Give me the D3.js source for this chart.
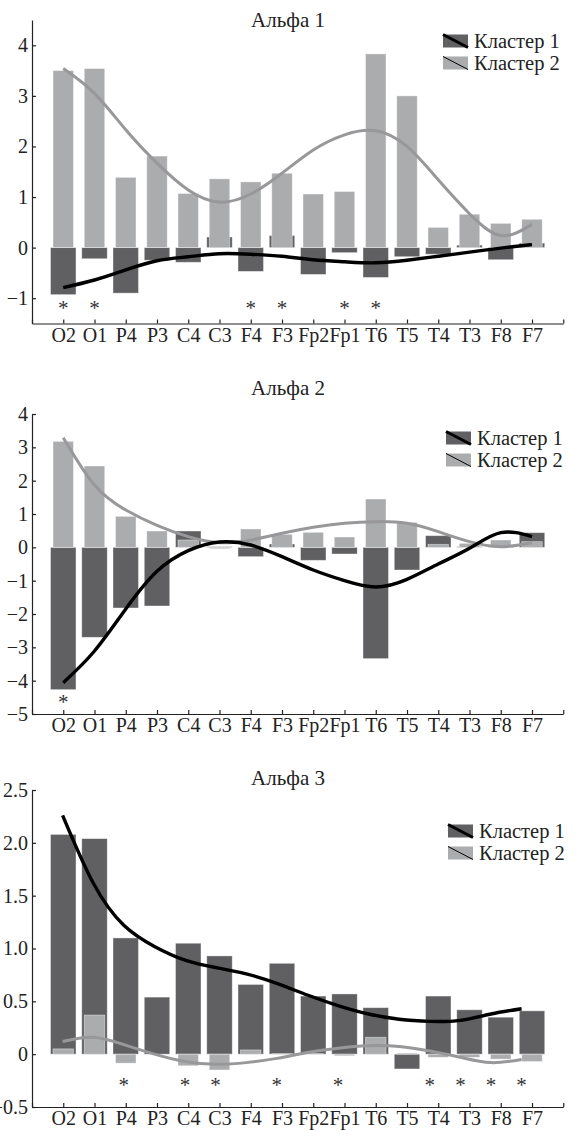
<!DOCTYPE html>
<html>
<head>
<meta charset="utf-8">
<script src="https://cdn.jsdelivr.net/npm/d3@7"></script>
<style>
body { margin: 0; background: #fff; }
svg { display: block; }
svg text { font-family: "Liberation Serif", "Times New Roman", serif !important; }
.axis path, .axis line { stroke: #222; stroke-width: 1.2; }
.axis text { fill: #222; font-size: 20px; }
.title { fill: #222; font-size: 21px; }
.legend text { fill: #222; font-size: 20.5px; }
.star { fill: #333; font-size: 21px; }
</style>
</head>
<body>
<div id="chart"></div>
<script>
'use strict';

var electrodes = ['O2', 'O1', 'P4', 'P3', 'C4', 'C3', 'F4', 'F3', 'Fp2', 'Fp1', 'T6', 'T5', 'T4', 'T3', 'F8', 'F7'];
var legendNames = ['Кластер 1', 'Кластер 2'];

// Альфа 1
var alpha1Cluster1 = [-0.93, -0.22, -0.90, -0.25, -0.29, 0.21, -0.47, 0.24, -0.53, -0.10, -0.59, -0.18, -0.13, 0.05, -0.24, 0.09];
var alpha1Cluster2 = [3.50, 3.54, 1.39, 1.81, 1.07, 1.36, 1.30, 1.47, 1.06, 1.11, 3.83, 3.00, 0.40, 0.66, 0.48, 0.56];
var alpha1Trend1 = [-0.79, -0.64, -0.44, -0.26, -0.18, -0.12, -0.13, -0.17, -0.24, -0.28, -0.30, -0.25, -0.17, -0.09, -0.01, 0.06];
var alpha1Trend2 = [3.54, 3.05, 2.33, 1.67, 1.14, 0.90, 1.06, 1.47, 1.93, 2.23, 2.31, 2.00, 1.34, 0.67, 0.24, 0.46];
var alpha1Marks = ['O2', 'O1', 'F4', 'F3', 'Fp1', 'T6'];
var alpha1Ticks = [-1, 0, 1, 2, 3, 4];

// Альфа 2
var alpha2Cluster1 = [-4.27, -2.70, -1.82, -1.76, 0.49, 0.02, -0.28, 0.10, -0.39, -0.20, -3.34, -0.68, 0.35, 0.02, -0.01, 0.44];
var alpha2Cluster2 = [3.18, 2.44, 0.93, 0.49, 0.22, -0.04, 0.55, 0.39, 0.45, 0.31, 1.45, 0.75, 0.09, 0.12, 0.22, 0.17];
var alpha2Trend1 = [-4.06, -3.11, -1.85, -0.72, -0.10, 0.16, 0.07, -0.28, -0.68, -1.00, -1.19, -0.96, -0.50, -0.03, 0.44, 0.32];
var alpha2Trend2 = [3.29, 1.87, 1.12, 0.66, 0.32, 0.14, 0.22, 0.42, 0.60, 0.72, 0.77, 0.72, 0.47, 0.17, 0.02, 0.14];
var alpha2Marks = ['O2'];
var alpha2Ticks = [-5, -4, -3, -2, -1, 0, 1, 2, 3, 4];

// Альфа 3
var alpha3Cluster1 = [2.08, 2.04, 1.10, 0.54, 1.05, 0.93, 0.66, 0.86, 0.55, 0.57, 0.44, -0.14, 0.55, 0.42, 0.35, 0.41];
var alpha3Cluster2 = [0.05, 0.37, -0.085, 0, -0.11, -0.15, 0.04, 0.005, 0.005, -0.015, 0.16, 0.01, -0.03, -0.03, -0.047, -0.07];
var alpha3Trend1 = [2.26, 1.62, 1.22, 1.02, 0.89, 0.82, 0.76, 0.67, 0.56, 0.46, 0.38, 0.33, 0.31, 0.32, 0.38, 0.43];
var alpha3Trend2 = [0.12, 0.16, 0.09, 0.0, -0.07, -0.095, -0.08, -0.04, 0.016, 0.057, 0.08, 0.073, 0.03, -0.03, -0.08, -0.05];
var alpha3Marks = ['P4', 'C4', 'C3', 'F3', 'Fp1', 'T4', 'T3', 'F8', 'F7'];
var alpha3Ticks = [-0.5, 0, 0.5, 1, 1.5, 2, 2.5];

var colors = {
    dark: '#606062',
    light: '#abacae',
    line1: '#000',
    line2: '#98989a'
};

var serif = '"Liberation Serif", "Times New Roman", serif';

var svg = d3.select('#chart').append('svg').attr('width', 578).attr('height', 1130);

var ChartScales = function ChartScales(config) {

    // categories sit on 1..16, axis runs 0..17
    var x = d3.scaleLinear().domain([0, 17]).range([32, 32 + 17 * 31.25]);
    // trend lines and stars of a panel may use a slightly narrower step
    var xo = d3.scaleLinear().domain([0, 17]).range([32, 32 + 17 * config.overlayStep]);
    var y = d3.scaleLinear().domain(config.domain).range([config.bottom, config.top]);

    return { x: x, xo: xo, y: y };
};

var ChartAxis = function ChartAxis(layer, config, scales) {

    var xAxis = d3.axisBottom(scales.x)
        .tickValues(d3.range(0, 18))
        .tickFormat(function (i) { return electrodes[i - 1] || ''; })
        .tickSizeInner(-4)
        .tickSizeOuter(0)
        .tickPadding(4);

    var yAxis = d3.axisLeft(scales.y)
        .tickValues(config.ticks)
        .tickFormat(config.format)
        .tickSizeInner(-4)
        .tickSizeOuter(0)
        .tickPadding(4);

    var gx = layer.append('g').attr('class', 'axis x-axis')
        .attr('transform', 'translate(0,' + config.bottom + ')')
        .call(xAxis)
        .attr('font-family', serif);
    gx.selectAll('text').attr('dy', '0.71em');

    layer.append('g').attr('class', 'axis y-axis')
        .attr('transform', 'translate(32,0)')
        .call(yAxis)
        .attr('font-family', serif);
};

var ChartBars = function ChartBars(layer, scales, values, width, color) {

    layer.append('g').selectAll('rect').data(values).enter().append('rect')
        .attr('x', function (d, i) { return scales.x(i + 1) - width / 2; })
        .attr('y', function (d) { return scales.y(Math.max(0, d)); })
        .attr('width', width)
        .attr('height', function (d) { return Math.abs(scales.y(d) - scales.y(0)); })
        .attr('fill', color)
        .attr('stroke', '#fff')
        .attr('stroke-opacity', 0.5)
        .attr('stroke-width', 0.8);
};

var ChartTrend = function ChartTrend(layer, scales, values, color, width) {

    var line = d3.line()
        .x(function (d, i) { return scales.xo(i + 1); })
        .y(function (d) { return scales.y(d); })
        .curve(d3.curveNatural);

    layer.append('path').datum(values)
        .attr('d', line)
        .attr('fill', 'none')
        .attr('stroke', color)
        .attr('stroke-width', width);
};

var ChartLegend = function ChartLegend(layer, config) {

    var g = layer.append('g').attr('class', 'legend').attr('font-family', serif);
    var fills = [colors.dark, colors.light];
    var strokes = [3, 1];

    legendNames.forEach(function (name, i) {
        var cy = config.legendY + i * 22;
        var x0 = config.legendX;
        g.append('rect').attr('x', x0).attr('y', cy - 6.5).attr('width', 25).attr('height', 13).attr('fill', fills[i]);
        g.append('line').attr('x1', x0).attr('y1', cy - 6.5).attr('x2', x0 + 25).attr('y2', cy + 6.5)
            .attr('stroke', '#000').attr('stroke-width', strokes[i]);
        g.append('text').attr('x', x0 + 31).attr('y', cy).attr('dy', '0.33em').text(name);
    });
};

var Panel = function Panel(config) {

    var layer = svg.append('g').attr('font-family', serif);
    var scales = ChartScales(config);

    layer.append('text').attr('class', 'title')
        .attr('x', 288).attr('y', config.titleY)
        .attr('text-anchor', 'middle')
        .text(config.title);

    ChartBars(layer, scales, config.cluster1, 25.5, colors.dark);
    ChartBars(layer, scales, config.cluster2, 20.5, colors.light);
    ChartTrend(layer, scales, config.trend2, colors.line2, 3);
    ChartTrend(layer, scales, config.trend1, colors.line1, 3.4);
    ChartAxis(layer, config, scales);

    // significance stars, the glyph sits high so the baseline goes below its centre
    layer.append('g').selectAll('text').data(config.marks).enter().append('text')
        .attr('class', 'star')
        .attr('x', function (d) { return scales.xo(electrodes.indexOf(d) + 1); })
        .attr('y', config.starY + 9)
        .attr('text-anchor', 'middle')
        .text('*');

    ChartLegend(layer, config);
};

var intFormat = d3.format('d');

Panel({
    title: 'Альфа 1',
    cluster1: alpha1Cluster1, cluster2: alpha1Cluster2,
    trend1: alpha1Trend1, trend2: alpha1Trend2,
    marks: alpha1Marks, ticks: alpha1Ticks, format: intFormat,
    domain: [-1.5, 4.5], bottom: 323.5, top: 20,
    overlayStep: 31.25, titleY: 27, legendX: 443, legendY: 41, starY: 306
});

Panel({
    title: 'Альфа 2',
    cluster1: alpha2Cluster1, cluster2: alpha2Cluster2,
    trend1: alpha2Trend1, trend2: alpha2Trend2,
    marks: alpha2Marks, ticks: alpha2Ticks, format: intFormat,
    domain: [-5, 4], bottom: 714, top: 414,
    overlayStep: 31.25, titleY: 395, legendX: 446, legendY: 438, starY: 700
});

Panel({
    title: 'Альфа 3',
    cluster1: alpha3Cluster1, cluster2: alpha3Cluster2,
    trend1: alpha3Trend1, trend2: alpha3Trend2,
    marks: alpha3Marks, ticks: alpha3Ticks,
    format: function (v) { return v === 0 ? '0' : d3.format('.1f')(v); },
    domain: [-0.5, 2.5], bottom: 1107, top: 790,
    overlayStep: 30.6, titleY: 785, legendX: 448, legendY: 831, starY: 1083
});
</script>
</body>
</html>
